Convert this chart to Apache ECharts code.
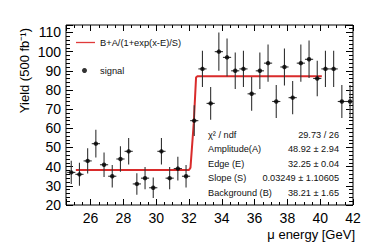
<!DOCTYPE html>
<html>
<head>
<meta charset="utf-8">
<script src="https://cdn.jsdelivr.net/npm/echarts@6/dist/echarts.min.js"></script>
<style>html,body{margin:0;padding:0;background:#fff}#c{width:374px;height:251px}</style>
</head>
<body>
<div id="c"></div>
<script>
// ---- data ----
const energy = [24.82, 25.32, 25.82, 26.32, 26.82, 27.32, 27.82, 28.32, 28.82, 29.32,
                29.82, 30.32, 30.82, 31.32, 31.82, 32.32, 32.82, 33.32, 33.82, 34.32,
                34.82, 35.32, 35.82, 36.32, 36.82, 37.32, 37.82, 38.32, 38.82, 39.32,
                39.82, 40.32, 40.82, 41.32, 41.82];
const yieldVals = [37, 36, 43, 52, 41, 35, 44, 48, 31, 34,
                   29, 48, 34, 39, 35, 64, 91, 73, 100, 97,
                   90, 91, 78, 90, 94, 74, 92, 76, 94, 96,
                   86, 91, 91, 74, 74];
const yieldErr = [6.1, 6.0, 6.6, 7.2, 6.4, 5.9, 6.6, 6.9, 5.6, 5.8,
                  5.4, 6.9, 5.8, 6.2, 5.9, 8.0, 9.5, 8.5, 10.0, 9.8,
                  9.5, 9.5, 8.8, 9.5, 9.7, 8.6, 9.6, 8.7, 9.7, 9.8,
                  9.3, 9.5, 9.5, 8.6, 8.6];
const binHalfWidth = 0.25;
const fitX = [25.1, 32.0, 32.09, 32.29, 32.43, 32.5, 40.1];
const fitY = [38.21, 38.21, 39.5, 62.7, 86.5, 87.13, 87.13];
const fitName = 'B+A/(1+exp(x-E)/S)';
const statLabels = ['χ² / ndf', 'Amplitude(A)', 'Edge (E)', 'Slope (S)', 'Background (B)'];
const statValues = ['29.73 / 26', '48.92 ± 2.94', '32.25 ± 0.04', '0.03249 ± 1.10605', '38.21 ± 1.65'];
const xRange = [24.5, 42];
const yRange = [20, 113.9];

// ---- chart ----
const FONT = 'Liberation Sans, Arial, Helvetica, sans-serif';
const chart = echarts.init(document.getElementById('c'), null, {renderer: 'svg'});

function xAx(pos, major, labels) {
  const a = {
    type: 'value', position: pos, min: xRange[0], max: xRange[1],
    axisLine: {show: false}, splitLine: {show: false},
    axisTick: {show: true, inside: true, length: major ? 6 : 3, lineStyle: {color: '#000', width: 1}},
    axisLabel: {show: false}
  };
  if (major) a.splitNumber = 9; else a.interval = 0.5;
  if (labels) a.axisLabel = {show: true, fontSize: 14, color: '#000', margin: 6, fontFamily: FONT,
    formatter: v => (Math.abs(v % 2) < 1e-6 ? String(Math.round(v)) : '')};
  return a;
}
function yAx(pos, major, labels) {
  const a = {
    type: 'value', position: pos, min: yRange[0], max: yRange[1], interval: major ? 10 : 2,
    axisLine: {show: false}, splitLine: {show: false},
    axisTick: {show: true, inside: true, length: major ? 7 : 4, lineStyle: {color: '#000', width: 1}},
    axisLabel: {show: false}
  };
  if (labels) a.axisLabel = {show: true, fontSize: 14, color: '#000', margin: 5, fontFamily: FONT,
    formatter: v => (Math.abs(v % 10) < 1e-6 ? String(Math.round(v)) : '')};
  return a;
}

const graphics = [];
statLabels.forEach((t, i) => {
  const y = 135 + 14.4 * i;
  graphics.push({type: 'text', x: 208, y: y, style: {text: t, fill: '#111', font: '9.2px ' + FONT, textAlign: 'left', textVerticalAlign: 'middle'}, silent: true});
  graphics.push({type: 'text', x: 339, y: y, style: {text: statValues[i], fill: '#111', font: '9.2px ' + FONT, textAlign: 'right', textVerticalAlign: 'middle'}, silent: true});
});
graphics.push({type: 'text', x: 355, y: 234, style: {text: 'μ energy [GeV]', fill: '#000', font: '13px ' + FONT, textAlign: 'right', textVerticalAlign: 'middle'}, silent: true});
graphics.push({type: 'text', x: 24, y: 28, rotation: Math.PI / 2, style: {text: 'Yield (500 fb⁻¹)', fill: '#000', font: '13px ' + FONT, textAlign: 'right', textVerticalAlign: 'middle'}, silent: true});

const points = energy.map((x, i) => [x, yieldVals[i], yieldErr[i]]);

chart.setOption({
  animation: false,
  backgroundColor: '#fff',
  textStyle: {fontFamily: FONT},
  grid: {left: 66, top: 25, right: 21, bottom: 46, show: true, borderColor: '#000', borderWidth: 1, backgroundColor: 'transparent'},
  xAxis: [xAx('bottom', false, true), xAx('bottom', true, false), xAx('top', false, false), xAx('top', true, false)],
  yAxis: [yAx('left', false, true), yAx('left', true, false), yAx('right', false, false), yAx('right', true, false)],
  legend: [
    {data: [{name: fitName, icon: 'rect', itemStyle: {color: '#e03a3a'}}], left: 76, top: 38, padding: 0, itemWidth: 19, itemHeight: 1.3, itemGap: 0,
     textStyle: {fontSize: 9.3, color: '#111', fontFamily: FONT}, selectedMode: false},
    {data: [{name: 'signal', icon: 'circle'}], left: 82, top: 66, padding: 0, itemWidth: 5, itemHeight: 5, itemGap: 0,
     textStyle: {fontSize: 9.3, color: '#111', fontFamily: FONT, padding: [0, 0, 0, 8]}, selectedMode: false}
  ],
  graphic: graphics,
  series: [
    {name: fitName, type: 'line', xAxisIndex: 0, yAxisIndex: 0, data: fitX.map((x, i) => [x, fitY[i]]),
     showSymbol: false, symbol: 'none', lineStyle: {color: '#d92b2b', width: 2}, itemStyle: {color: '#d92b2b'}, z: 3, silent: true},
    {name: 'errors', type: 'custom', xAxisIndex: 0, yAxisIndex: 0, data: points, clip: true, z: 4, silent: true,
     renderItem: function (params, api) {
       const x = api.value(0), y = api.value(1), e = api.value(2);
       const c = api.coord([x, y]);
       const t = api.coord([x, y + e]);
       const b = api.coord([x, y - e]);
       const l = api.coord([x - binHalfWidth, y]);
       const r = api.coord([x + binHalfWidth, y]);
       const st = {stroke: '#333', lineWidth: 1.1};
       return {type: 'group', children: [
         {type: 'line', shape: {x1: c[0], y1: t[1], x2: c[0], y2: b[1]}, style: st},
         {type: 'line', shape: {x1: l[0], y1: c[1], x2: r[0], y2: c[1]}, style: st}
       ]};
     }},
    {name: 'signal', type: 'scatter', xAxisIndex: 0, yAxisIndex: 0, data: points.map(p => [p[0], p[1]]),
     symbol: 'circle', symbolSize: 4.5, itemStyle: {color: '#000'}, z: 5, silent: true}
  ]
});
</script>
</body>
</html>
